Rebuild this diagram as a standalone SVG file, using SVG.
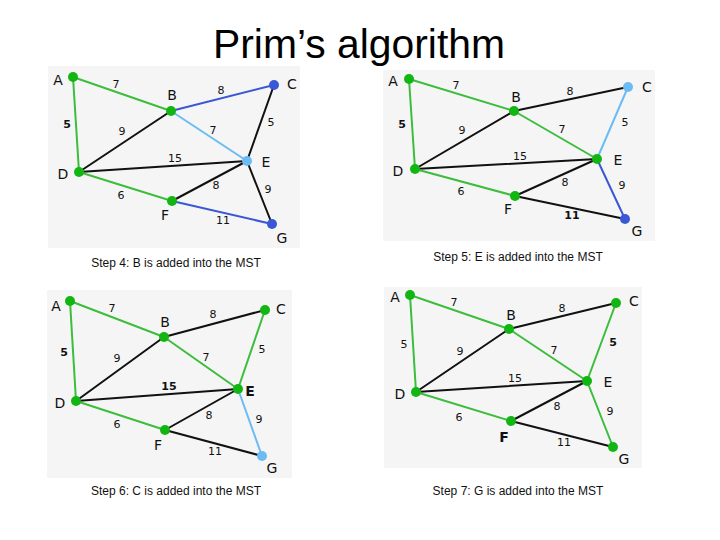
<svg xmlns="http://www.w3.org/2000/svg" width="720" height="540" viewBox="0 0 720 540">
<style>
.bg{fill:#f5f5f5}
line{stroke-width:2;stroke-linecap:round}
.g{stroke:#3cbd3c}.k{stroke:#111}.db{stroke:#3a58d6}.lb{stroke:#6bbcf4}
.ng{fill:#12b612}.nd{fill:#3a58d6}.nl{fill:#6bbcf4}
.nl2{font-family:"DejaVu Sans",sans-serif;font-size:14px;fill:#111;text-anchor:middle}
.w{font-family:"DejaVu Sans",sans-serif;font-size:11px;fill:#111;text-anchor:middle}
.cap{font-family:"Liberation Sans",Arial,sans-serif;font-size:12px;fill:#111;text-anchor:middle}
.title{font-family:"Liberation Sans",Arial,sans-serif;font-size:41px;fill:#000;text-anchor:middle}
</style>
<rect width="720" height="540" fill="#fff"/>
<text class="title" x="359" y="58" textLength="292" lengthAdjust="spacingAndGlyphs">Prim’s algorithm</text>

<!-- Panel 1 -->
<g id="panel1">
<rect class="bg" x="48" y="66" width="252" height="182"/>
<g id="p1-edges">
<line class="g" x1="73" y1="77" x2="171" y2="111"/>
<line class="db" x1="171" y1="111" x2="274" y2="85"/>
<line class="g" x1="73" y1="77" x2="79" y2="172"/>
<line class="k" x1="79" y1="172" x2="171" y2="111"/>
<line class="lb" x1="171" y1="111" x2="247" y2="161"/>
<line class="k" x1="274" y1="85" x2="247" y2="161"/>
<line class="k" x1="79" y1="172" x2="247" y2="161"/>
<line class="k" x1="247" y1="161" x2="172" y2="201"/>
<line class="k" x1="247" y1="161" x2="272" y2="224"/>
<line class="g" x1="79" y1="172" x2="172" y2="201"/>
<line class="db" x1="172" y1="201" x2="272" y2="224"/>
</g>
<g id="p1-A"><circle class="ng" cx="73" cy="77" r="5"/><text class="nl2" x="58" y="85">A</text></g>
<g id="p1-B"><circle class="ng" cx="171" cy="111" r="5"/><text class="nl2" x="172" y="100">B</text></g>
<g id="p1-C"><circle class="nd" cx="274" cy="85" r="5"/><text class="nl2" x="292" y="89">C</text></g>
<g id="p1-D"><circle class="ng" cx="79" cy="172" r="5"/><text class="nl2" x="63" y="179">D</text></g>
<g id="p1-E"><circle class="nl" cx="247" cy="161" r="5"/><text class="nl2" x="266" y="167">E</text></g>
<g id="p1-F"><circle class="ng" cx="172" cy="201" r="5"/><text class="nl2" x="165" y="220">F</text></g>
<g id="p1-G"><circle class="nd" cx="272" cy="224" r="5"/><text class="nl2" x="282" y="243">G</text></g>
<g id="p1-weights">
<text class="w" x="116" y="88">7</text><text class="w" x="221" y="94">8</text>
<text class="w" x="67" y="128" font-weight="bold">5</text><text class="w" x="122" y="135">9</text>
<text class="w" x="213" y="134">7</text><text class="w" x="271" y="126">5</text>
<text class="w" x="175" y="162">15</text><text class="w" x="216" y="189">8</text>
<text class="w" x="268" y="193">9</text><text class="w" x="121" y="199">6</text>
<text class="w" x="223" y="224">11</text>
</g>
<text class="cap" x="176" y="267">Step 4: B is added into the MST</text>
</g>

<!-- Panel 2 -->
<g id="panel2">
<rect class="bg" x="383" y="70" width="272" height="171"/>
<g id="p2-edges">
<line class="g" x1="409" y1="79" x2="514" y2="111"/>
<line class="k" x1="514" y1="111" x2="628" y2="87"/>
<line class="g" x1="409" y1="79" x2="415" y2="169"/>
<line class="k" x1="415" y1="169" x2="514" y2="111"/>
<line class="g" x1="514" y1="111" x2="597" y2="159"/>
<line class="lb" x1="628" y1="87" x2="597" y2="159"/>
<line class="k" x1="415" y1="169" x2="597" y2="159"/>
<line class="k" x1="597" y1="159" x2="515" y2="196"/>
<line class="db" x1="597" y1="159" x2="625" y2="219"/>
<line class="g" x1="415" y1="169" x2="515" y2="196"/>
<line class="k" x1="515" y1="196" x2="625" y2="219"/>
</g>
<g id="p2-A"><circle class="ng" cx="409" cy="79" r="5"/><text class="nl2" x="393" y="86">A</text></g>
<g id="p2-B"><circle class="ng" cx="514" cy="111" r="5"/><text class="nl2" x="516" y="102">B</text></g>
<g id="p2-C"><circle class="nl" cx="628" cy="87" r="5"/><text class="nl2" x="647" y="92">C</text></g>
<g id="p2-D"><circle class="ng" cx="415" cy="169" r="5"/><text class="nl2" x="398" y="176">D</text></g>
<g id="p2-E"><circle class="ng" cx="597" cy="159" r="5"/><text class="nl2" x="618" y="165">E</text></g>
<g id="p2-F"><circle class="ng" cx="515" cy="196" r="5"/><text class="nl2" x="508" y="214">F</text></g>
<g id="p2-G"><circle class="nd" cx="625" cy="219" r="5"/><text class="nl2" x="637" y="236">G</text></g>
<g id="p2-weights">
<text class="w" x="456" y="89">7</text><text class="w" x="570" y="95">8</text>
<text class="w" x="402" y="128" font-weight="bold">5</text><text class="w" x="462" y="134">9</text>
<text class="w" x="562" y="133">7</text><text class="w" x="625" y="126">5</text>
<text class="w" x="520" y="160">15</text><text class="w" x="565" y="186">8</text>
<text class="w" x="622" y="189">9</text><text class="w" x="461" y="195">6</text>
<text class="w" x="572" y="219" font-weight="bold">11</text>
</g>
<text class="cap" x="518" y="261">Step 5: E is added into the MST</text>
</g>

<!-- Panel 3 -->
<g id="panel3">
<rect class="bg" x="47" y="290" width="245" height="188"/>
<g id="p3-edges">
<line class="g" x1="70" y1="301" x2="164" y2="337"/>
<line class="k" x1="164" y1="337" x2="265" y2="310"/>
<line class="g" x1="70" y1="301" x2="76" y2="401"/>
<line class="k" x1="76" y1="401" x2="164" y2="337"/>
<line class="g" x1="164" y1="337" x2="238" y2="389"/>
<line class="g" x1="265" y1="310" x2="238" y2="389"/>
<line class="k" x1="76" y1="401" x2="238" y2="389"/>
<line class="k" x1="238" y1="389" x2="165" y2="430"/>
<line class="lb" x1="238" y1="389" x2="262" y2="456"/>
<line class="g" x1="76" y1="401" x2="165" y2="430"/>
<line class="k" x1="165" y1="430" x2="262" y2="456"/>
</g>
<g id="p3-A"><circle class="ng" cx="70" cy="301" r="5"/><text class="nl2" x="56" y="311">A</text></g>
<g id="p3-B"><circle class="ng" cx="164" cy="337" r="5"/><text class="nl2" x="165" y="327">B</text></g>
<g id="p3-C"><circle class="ng" cx="265" cy="310" r="5"/><text class="nl2" x="281" y="314">C</text></g>
<g id="p3-D"><circle class="ng" cx="76" cy="401" r="5"/><text class="nl2" x="60" y="408">D</text></g>
<g id="p3-E"><circle class="ng" cx="238" cy="389" r="5"/><text class="nl2" x="250" y="396" font-weight="bold">E</text></g>
<g id="p3-F"><circle class="ng" cx="165" cy="430" r="5"/><text class="nl2" x="158" y="450">F</text></g>
<g id="p3-G"><circle class="nl" cx="262" cy="456" r="5"/><text class="nl2" x="272" y="473">G</text></g>
<g id="p3-weights">
<text class="w" x="112" y="312">7</text><text class="w" x="213" y="318">8</text>
<text class="w" x="64" y="356" font-weight="bold">5</text><text class="w" x="117" y="362">9</text>
<text class="w" x="206" y="361">7</text><text class="w" x="262" y="353">5</text>
<text class="w" x="169" y="390" font-weight="bold">15</text><text class="w" x="209" y="419">8</text>
<text class="w" x="259" y="423">9</text><text class="w" x="117" y="428">6</text>
<text class="w" x="215" y="455">11</text>
</g>
<text class="cap" x="176" y="495">Step 6: C is added into the MST</text>
</g>

<!-- Panel 4 -->
<g id="panel4">
<rect class="bg" x="384" y="287" width="258" height="181"/>
<g id="p4-edges">
<line class="g" x1="410" y1="295" x2="509" y2="329"/>
<line class="k" x1="509" y1="329" x2="616" y2="303"/>
<line class="g" x1="410" y1="295" x2="416" y2="392"/>
<line class="k" x1="416" y1="392" x2="509" y2="329"/>
<line class="g" x1="509" y1="329" x2="587" y2="381"/>
<line class="g" x1="616" y1="303" x2="587" y2="381"/>
<line class="k" x1="416" y1="392" x2="587" y2="381"/>
<line class="k" x1="587" y1="381" x2="511" y2="421"/>
<line class="g" x1="587" y1="381" x2="613" y2="447"/>
<line class="g" x1="416" y1="392" x2="511" y2="421"/>
<line class="k" x1="511" y1="421" x2="613" y2="447"/>
</g>
<g id="p4-A"><circle class="ng" cx="410" cy="295" r="5"/><text class="nl2" x="395" y="302">A</text></g>
<g id="p4-B"><circle class="ng" cx="509" cy="329" r="5"/><text class="nl2" x="511" y="320">B</text></g>
<g id="p4-C"><circle class="ng" cx="616" cy="303" r="5"/><text class="nl2" x="634" y="306">C</text></g>
<g id="p4-D"><circle class="ng" cx="416" cy="392" r="5"/><text class="nl2" x="400" y="399">D</text></g>
<g id="p4-E"><circle class="ng" cx="587" cy="381" r="5"/><text class="nl2" x="608" y="387">E</text></g>
<g id="p4-F"><circle class="ng" cx="511" cy="421" r="5"/><text class="nl2" x="504" y="442" font-weight="bold">F</text></g>
<g id="p4-G"><circle class="ng" cx="613" cy="447" r="5"/><text class="nl2" x="624" y="464">G</text></g>
<g id="p4-weights">
<text class="w" x="454" y="306">7</text><text class="w" x="562" y="312">8</text>
<text class="w" x="404" y="348">5</text><text class="w" x="460" y="355">9</text>
<text class="w" x="554" y="354">7</text><text class="w" x="613" y="346" font-weight="bold">5</text>
<text class="w" x="515" y="382">15</text><text class="w" x="557" y="410">8</text>
<text class="w" x="610" y="415">9</text><text class="w" x="459" y="421">6</text>
<text class="w" x="564" y="446">11</text>
</g>
<text class="cap" x="518" y="495">Step 7: G is added into the MST</text>
</g>
</svg>
